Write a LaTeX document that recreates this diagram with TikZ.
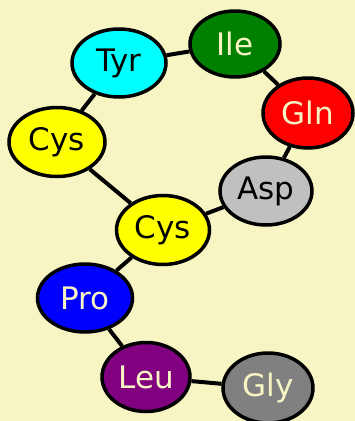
\documentclass[tikz,border=0pt]{standalone}
\usepackage{fontspec}
\setmainfont{DejaVu Sans}
\usetikzlibrary{shapes.geometric}
\definecolor{paper}{RGB}{248,245,197}
\definecolor{cream}{RGB}{248,245,197}
\definecolor{tyrcyan}{RGB}{0,255,255}
\definecolor{cysyellow}{RGB}{255,255,0}
\definecolor{glnred}{RGB}{255,0,0}
\definecolor{problue}{RGB}{0,0,255}
\definecolor{ilegreen}{RGB}{0,128,0}
\definecolor{aspgray}{RGB}{192,192,192}
\definecolor{glygray}{RGB}{128,128,128}
\definecolor{leupurple}{RGB}{128,0,128}
\tikzset{
  residue/.style={ellipse, draw=black, line width=3.5pt, inner sep=0pt,
    font=\fontsize{31}{31}\selectfont},
  bond/.style={line width=4pt, black}
}
\begin{document}
\begin{tikzpicture}[x=1pt, y=-1pt]
  \fill[paper] (0,0) rectangle (355,421);
  \useasboundingbox (0,0) rectangle (355,421);
  % amino-acid residues
  \node[residue, fill=tyrcyan, text=black, minimum width=94pt, minimum height=68pt] (tyr) at (119,63) {Tyr};
  \node[residue, fill=ilegreen, text=cream, minimum width=90pt, minimum height=66pt] (ile) at (235,44) {Ile};
  \node[residue, fill=glnred, text=cream, minimum width=90pt, minimum height=70pt] (gln) at (308,113) {Gln};
  \node[residue, fill=cysyellow, text=black, minimum width=96pt, minimum height=69pt] (cysA) at (57,142) {Cys};
  \node[residue, fill=aspgray, text=black, minimum width=92pt, minimum height=68pt] (asp) at (266,191) {Asp};
  \node[residue, fill=cysyellow, text=black, minimum width=93pt, minimum height=69pt] (cysB) at (163,230) {Cys};
  \node[residue, fill=problue, text=cream, minimum width=95pt, minimum height=68pt] (pro) at (85,298) {Pro};
  \node[residue, fill=leupurple, text=cream, minimum width=88pt, minimum height=69pt] (leu) at (146,377) {Leu};
  \node[residue, fill=glygray, text=cream, minimum width=90pt, minimum height=70pt] (gly) at (268,388) {Gly};
  % peptide and disulfide bonds
  \draw[bond] (tyr) -- (ile);
  \draw[bond] (ile) -- (gln);
  \draw[bond] (gln) -- (asp);
  \draw[bond] (tyr) -- (cysA);
  \draw[bond] (cysA) -- (cysB);
  \draw[bond] (cysB) -- (asp);
  \draw[bond] (cysB) -- (pro);
  \draw[bond] (pro) -- (leu);
  \draw[bond] (leu) -- (gly);
\end{tikzpicture}
\end{document}
